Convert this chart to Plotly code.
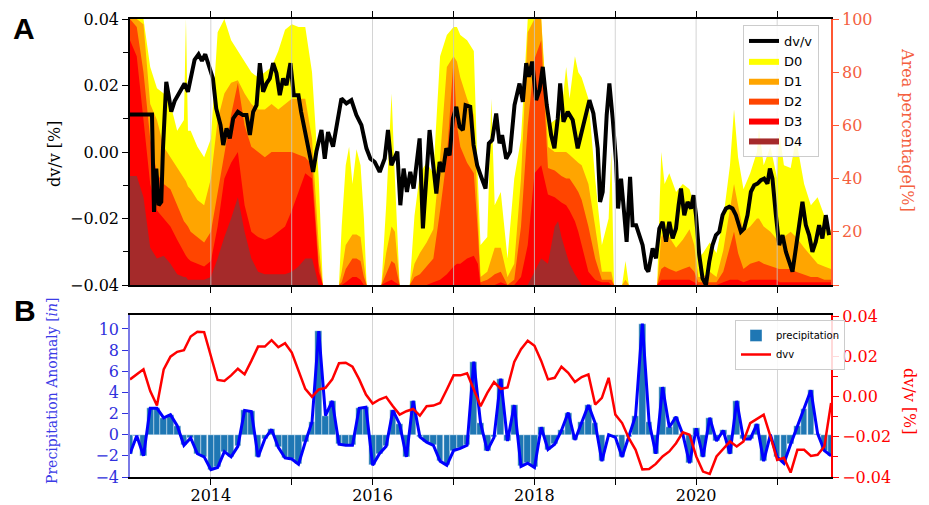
import numpy as np
import pandas as pd
import plotly.graph_objects as go

START = pd.Timestamp("2013-01-01")


def to_dates(months):
    return START + pd.to_timedelta(np.asarray(months, dtype=float) * 30.436875, unit="D")


# ---------------- Panel A : drought area percentages (cumulative) ----------------
drought_month = [0, 1, 2, 3, 4, 5, 6, 7, 8, 8.3, 8.6, 9, 10, 11, 12, 13, 14, 15, 16, 17,
                 18, 19, 20, 21, 22, 23, 24, 25, 26, 27, 28, 28.6, 31, 31.4, 32, 32.5, 33,
                 33.6, 34.2, 34.7, 35.1, 37.3, 38, 38.8, 39.3, 40, 41.5, 42.2, 43, 44, 45,
                 46, 47, 48, 48.5, 49, 50, 51, 51.6, 52, 53, 53.6, 54.1, 55, 56, 57, 58, 59,
                 60, 61, 62, 63, 63.5, 64, 64.7, 65.2, 66, 66.5, 67, 68, 69, 70, 71, 71.4,
                 71.8, 73, 73.5, 74, 78.2, 78.8, 79.3, 80, 81, 82, 83, 83.7, 84.3, 85, 86,
                 87, 88, 89, 89.6, 90.2, 91, 92, 93, 93.3, 94, 95, 96, 96.3, 97, 98, 98.8,
                 100, 101, 102, 103, 104]
d0 = [100, 100, 100, 82, 74, 72, 68, 58, 62, 100, 58, 58, 52, 48, 55, 95, 100, 92, 88, 84,
      80, 78, 80, 82, 88, 96, 98, 97, 97, 80, 40, 0, 0, 22, 45, 52, 38,
      51, 45, 25, 0, 0, 30, 72, 40, 0, 0, 26, 42, 46, 42,
      86, 94, 97, 97, 94, 92, 88, 40, 15, 18, 70, 30, 35, 10, 40, 55, 100,
      100, 100, 60, 62, 62, 65, 82, 70, 86, 80, 78, 70, 40, 15, 25, 50,
      0, 0, 9, 0, 0, 50, 38, 42, 35, 38, 36, 30, 10, 12, 16,
      12, 25, 45, 66, 48, 36, 42, 50, 59, 45, 52, 40, 58, 45, 44, 55,
      38, 30, 33, 26, 20]
d1 = [100, 100, 98, 68, 62, 52, 48, 44, 40, 39, 37, 36, 32, 30, 40, 62, 72, 76, 77, 72,
      68, 66, 66, 68, 66, 68, 70, 70, 70, 55, 15, 0, 0, 5, 15, 17, 19,
      19, 18, 8, 0, 0, 12, 22, 20, 0, 0, 8, 12, 16, 21,
      48, 82, 86, 84, 78, 70, 64, 25, 3, 5, 10, 14, 14, 3, 8, 40, 95,
      100, 100, 52, 50, 50, 50, 50, 49, 47, 46, 45, 38, 22, 5, 5, 5,
      0, 0, 2, 0, 0, 18, 20, 18, 14, 17, 21, 15, 3, 3, 5,
      3, 13, 28, 38, 30, 20, 22, 25, 25, 22, 20, 17, 18, 18, 20, 18,
      14, 11, 8, 7, 6]
d2 = [100, 97, 80, 55, 42, 38, 36, 30, 24, 23, 22, 20, 18, 16, 20, 35, 50, 64, 76, 60,
      52, 50, 48, 50, 50, 50, 50, 49, 48, 45, 8, 0, 0, 1, 6, 8, 10,
      10, 9, 3, 0, 0, 4, 9, 8, 0, 0, 3, 4, 7, 10,
      28, 48, 85, 60, 52, 46, 42, 20, 1, 2, 3, 4, 5, 0, 2, 22, 60,
      85, 92, 44, 43, 42, 41, 40, 40, 37, 35, 32, 22, 10, 2, 2, 2,
      0, 0, 0, 0, 0, 6, 7, 6, 5, 6, 7, 5, 1, 1, 1,
      1, 5, 15, 20, 12, 6, 8, 9, 9, 8, 7, 6, 6, 6, 6, 5,
      4, 3, 3, 2, 2]
d3 = [92, 86, 62, 38, 28, 25, 22, 17, 12, 11, 10, 9, 8, 7, 9, 22, 40, 46, 50, 30,
      20, 18, 17, 18, 20, 22, 28, 35, 42, 40, 5, 0, 0, 0, 1, 2, 3,
      3, 2, 0, 0, 0, 1, 2, 1, 0, 0, 0, 0, 0, 1,
      2, 4, 7, 8, 8, 10, 11, 8, 0, 0, 0, 0, 1, 0, 0, 3, 15,
      42, 45, 34, 33, 32, 31, 30, 28, 24, 20, 15, 5, 2, 1, 1, 0,
      0, 0, 0, 0, 0, 2, 2, 2, 2, 2, 2, 1, 0, 0, 0,
      0, 1, 2, 2, 2, 1, 2, 2, 2, 2, 2, 2, 1, 1, 1, 1,
      1, 1, 1, 1, 1]
d4 = [41, 41, 33, 14, 10, 11, 8, 4, 3, 3, 2, 2, 2, 2, 3, 10, 18, 25, 33, 20,
      10, 5, 4, 4, 4, 4, 5, 7, 10, 10, 0, 0, 0, 0, 0, 0, 0,
      0, 0, 0, 0, 0, 0, 0, 0, 0, 0, 0, 0, 0, 0,
      0, 0, 0, 0, 0, 0, 0, 0, 0, 0, 0, 0, 0, 0, 0, 0, 0,
      5, 10, 8, 22, 24, 18, 12, 8, 4, 2, 0, 0, 0, 0, 0, 0,
      0, 0, 0, 0, 0, 0, 0, 0, 0, 0, 0, 0, 0, 0, 0,
      0, 0, 0, 0, 0, 0, 0, 0, 0, 0, 0, 0, 0, 0, 0, 0,
      0, 0, 0, 0, 0]
drought_names = ["D0", "D1", "D2", "D3", "D4"]
drought_colors = ["#ffff00", "#ffa500", "#ff4500", "#ff0000", "#a52a2a"]

# ---------------- Panel A : dv/v (continuous) ----------------
dvv_month = [0, 3.26, 3.56, 3.9, 4.25, 4.64, 4.89, 5.38, 5.73, 6.12, 6.62, 7.11, 7.6, 8.1,
             8.59, 9.08, 9.58, 10.17, 10.67, 11.16, 11.65, 12.3, 12.79, 13.43, 13.83, 14.32,
             14.81, 15.31, 16.0, 16.74, 17.28, 17.78, 18.27, 18.77, 19.26, 19.75, 20.25,
             20.74, 21.23, 21.73, 22.22, 22.72, 23.21, 23.8, 24.3, 24.99, 25.38, 25.93,
             27.16, 27.65, 28.4, 28.89, 29.38, 30.12, 30.62, 31.36, 32.1, 32.84, 33.58,
             34.33, 35.07, 35.66, 36.3, 37.04, 37.78, 38.27, 38.77, 39.66, 40.1, 40.59,
             41.08, 41.58, 42.07, 42.56, 42.96, 43.45, 43.95, 44.44, 44.93, 45.44, 45.93,
             46.41, 46.92, 47.41, 47.9, 48.4, 48.89, 49.38, 49.78, 50.47, 50.96, 51.5,
             52.1, 52.74, 53.23, 53.73, 54.32, 54.81, 55.2, 55.8, 56.39, 57.04, 57.78,
             58.27, 58.77, 59.16, 59.66, 60.25, 60.74, 61.23, 61.82, 62.47, 62.96, 63.45,
             63.81, 64.3, 64.93, 65.67, 66.41, 67.16, 67.73, 68.15, 68.74, 69.38, 69.73,
             70.12, 70.71, 71.11, 71.6, 72.1, 72.4, 72.84, 73.33, 73.67, 74.18, 74.56,
             75.07, 75.56, 76.04, 76.55, 76.89, 77.53, 78.03, 78.52, 79.01, 79.51, 80.0,
             80.49, 80.99, 81.38, 81.73, 82.22, 82.71, 83.21, 83.6, 83.96, 84.44, 84.93,
             85.44, 85.93, 86.41, 86.92, 87.41, 87.9, 88.4, 88.89, 89.38, 89.88, 90.62,
             91.11, 91.6, 92.1, 92.59, 93.08, 93.58, 94.07, 94.56, 94.92, 95.3, 95.81,
             96.3, 96.79, 97.29, 97.78, 98.27, 98.77, 99.26, 99.75, 100.25, 100.74,
             101.23, 101.73, 102.22, 102.71, 103.21, 103.7]
dvv_a = [0.0113, 0.0113, -0.018, -0.005, -0.016, -0.015, 0.001, 0.0211, 0.0171, 0.0121,
         0.0153, 0.0171, 0.0186, 0.0206, 0.0181, 0.0231, 0.0277, 0.0294, 0.0274, 0.0294,
         0.0262, 0.0221, 0.0131, 0.0081, 0.0021, 0.0071, 0.0041, 0.0101, 0.0121, 0.0111,
         0.0111, 0.0051, 0.0121, 0.0141, 0.0267, 0.0181, 0.0206, 0.0221, 0.0267, 0.0237,
         0.0171, 0.0221, 0.0201, 0.0267, 0.0171, 0.0171, 0.0121, 0.006, -0.006, 0.0001,
         0.0066, -0.002, 0.006, 0.0016, 0.0081, 0.0161, 0.0146, 0.0156, 0.0111, 0.0081,
         0.0011, -0.002, -0.003, -0.006, -0.002, 0.0066, -0.004, 0.0001, -0.016, -0.005,
         -0.012, -0.006, -0.011, -0.0034, 0.0041, -0.023, -0.007, 0.0066, -0.003, -0.0125,
         -0.003, -0.006, 0.0011, -0.001, 0.0101, 0.0136, 0.0076, 0.0066, 0.0141, 0.0136,
         0.0021, -0.004, -0.0075, -0.011, 0.0026, 0.0036, 0.0116, 0.0026, 0.0051, -0.002,
         0.0001, 0.0141, 0.0206, 0.0151, 0.0267, 0.0226, 0.0272, 0.0156, 0.0186, 0.0256,
         0.0141, 0.0051, 0.0011, 0.0101, 0.0206, 0.0091, 0.0121, 0.0096, 0.0011, 0.0071,
         0.0111, 0.0156, 0.0116, 0.0011, -0.015, -0.012, 0.0111, 0.0206, 0.0101, -0.003,
         -0.017, -0.008, -0.019, -0.027, -0.0075, -0.022, -0.022, -0.0255, -0.028, -0.035,
         -0.036, -0.029, -0.032, -0.023, -0.021, -0.027, -0.021, -0.026, -0.023, -0.016,
         -0.011, -0.019, -0.015, -0.017, -0.013, -0.019, -0.031, -0.038, -0.040, -0.033,
         -0.028, -0.025, -0.024, -0.019, -0.017, -0.0165, -0.017, -0.019, -0.024, -0.023,
         -0.019, -0.012, -0.010, -0.0095, -0.0085, -0.008, -0.0095, -0.005, -0.008,
         -0.019, -0.028, -0.025, -0.030, -0.033, -0.036, -0.029, -0.021, -0.015, -0.022,
         -0.025, -0.030, -0.027, -0.022, -0.026, -0.019, -0.025]

# ---------------- Panel B : monthly precipitation anomaly & dvv ----------------
month_b = list(range(105))
precip = [-1.8, -0.1, -2.0, 2.5, 2.5, 1.6, 1.9, 0.85, -1.0, -0.3, -1.8, -2.1, -3.3, -3.1,
          -1.6, -2.1, -1.1, 2.3, 2.2, -2.1, -0.4, 0.5, -1.2, -2.2, -2.3, -2.8, -0.7, 1.2,
          9.8, 1.8, 3.2, -0.9, -1.0, -1.0, 2.5, 2.6, -2.9, -1.8, -1.1, 2.3, 1.0, -2.1,
          3.2, -0.2, -0.7, -1.0, -2.5, -2.9, -1.5, -1.3, -1.0, 6.9, 1.1, -1.5, -0.25, 5.3,
          -0.6, 2.8, -3.0, -2.7, -3.1, 0.7, -1.4, -0.9, 0.4, 2.1, -0.5, 1.2, 2.8, 1.1,
          -2.5, 0.0, -0.25, -2.1, -0.25, 1.8, 10.5, 1.2, -1.8, 4.5, 0.7, 1.7, 0.05, -2.7,
          0.6, -2.1, 1.6, -0.6, 0.4, -1.8, 3.2, -0.4, -0.4, 1.0, -2.5, 0.0, -2.1, -2.7,
          -0.9, 0.85, 2.4, 4.2, 0.1, -1.5, -2.0]
dvv_b = [0.0085, 0.011, 0.0135, 0.0027, -0.0045, 0.0135, 0.0198, 0.0222, 0.023, 0.0298,
         0.0322, 0.032, 0.0202, 0.0082, 0.0077, 0.0105, 0.0138, 0.011, 0.0177, 0.0248,
         0.0248, 0.028, 0.0245, 0.0265, 0.0218, 0.0127, 0.0038, -0.0002, 0.0035, 0.0043,
         0.0085, 0.0165, 0.0168, 0.0148, 0.0085, 0.001, -0.0035, -0.0015, -0.0002,
         -0.0048, -0.009, -0.0073, -0.0062, -0.0095, -0.0048, -0.0045, -0.0032, 0.0035,
         0.0105, 0.0105, 0.0115, 0.0035, -0.0048, 0.0018, 0.0072, 0.0038, 0.0045, 0.0172,
         0.0235, 0.0277, 0.0252, 0.0177, 0.0085, 0.0093, 0.0148, 0.0118, 0.0072, 0.0097,
         0.011, -0.004, -0.0007, 0.0093, -0.009, -0.0132, -0.0207, -0.0265, -0.0362,
         -0.036, -0.0335, -0.0298, -0.0273, -0.0232, -0.0178, -0.019, -0.0298, -0.0373,
         -0.0385, -0.0298, -0.0262, -0.0223, -0.0248, -0.0223, -0.0132, -0.0112, -0.009,
         -0.0198, -0.0315, -0.0305, -0.0378, -0.0265, -0.0265, -0.0295, -0.029, -0.0248,
         -0.0032]

years = list(range(2014, 2022))
year_labels = ["2014", "", "2016", "", "2018", "", "2020", ""]

# ---------------- figure ----------------
SERIF = "DejaVu Serif"
SANS = "DejaVu Sans"
AREA_COL = "#ff5733"
AREA_TXT = "#f4603f"
BLUE_TXT = "#3030dd"
RED = "#ff0000"

x_range = [pd.Timestamp("2013-01-01"), pd.Timestamp("2021-09-01")]
year_dates = [pd.Timestamp(f"{y}-01-01") for y in years]

fig = go.Figure()

dd = to_dates(drought_month)
for i, (name, vals, col) in enumerate(zip(drought_names, [d0, d1, d2, d3, d4], drought_colors)):
    fig.add_trace(go.Scatter(x=dd, y=vals, mode="lines", fill="tozeroy", fillcolor=col,
                             line=dict(width=0, color=col), name=name,
                             xaxis="x", yaxis="y", legend="legend", legendrank=i + 2))

fig.add_trace(go.Scatter(x=to_dates(dvv_month), y=dvv_a, mode="lines",
                         line=dict(color="black", width=4), name="dv/v",
                         xaxis="x", yaxis="y2", legend="legend", legendrank=1))

db = to_dates(month_b)
fig.add_trace(go.Bar(x=db, y=precip, width=30 * 86400000,
                     marker=dict(color="#1f77b4", line=dict(color="white", width=0.4)),
                     name="precipitation", xaxis="x2", yaxis="y3", legend="legend2"))
fig.add_trace(go.Scatter(x=db, y=precip, mode="lines", line=dict(color="#0000ff", width=3),
                         showlegend=False, xaxis="x2", yaxis="y3"))
fig.add_trace(go.Scatter(x=db, y=dvv_b, mode="lines", line=dict(color=RED, width=2.5),
                         name="dvv", xaxis="x2", yaxis="y4", legend="legend2"))

W, H = 929, 505
xdom = [130 / W, 831 / W]
ydomA = [1 - 285 / H, 1 - 19 / H]
ydomB = [1 - 477 / H, 1 - 315 / H]

tickfont = dict(family=SERIF, size=16, color="black")

fig.update_layout(
    width=W, height=H, margin=dict(l=0, r=0, t=0, b=0, pad=0), autosize=False,
    paper_bgcolor="white", plot_bgcolor="white", bargap=0,
    xaxis=dict(domain=xdom, anchor="y", type="date", range=x_range, tickvals=year_dates,
               showticklabels=False, ticks="outside", ticklen=6, tickwidth=1.3, tickcolor="black",
               showline=True, linecolor="black", linewidth=1.6, mirror="ticks", showgrid=False,
               zeroline=False, automargin=False),
    yaxis=dict(domain=ydomA, anchor="x", side="right", range=[0, 100],
               tickvals=[0, 20, 40, 60, 80, 100], ticktext=["", "20", "40", "60", "80", "100"],
               ticks="outside", ticklen=6, tickwidth=1.3, tickcolor=AREA_COL,
               tickfont=dict(family=SERIF, size=16, color=AREA_TXT),
               showline=True, linecolor=AREA_COL, linewidth=1.6, showgrid=False, zeroline=False,
               automargin=False),
    yaxis2=dict(anchor="x", overlaying="y", side="left", range=[-0.04, 0.04],
                tickvals=[-0.04, -0.02, 0, 0.02, 0.04], tickformat=".2f",
                ticks="outside", ticklen=6, tickwidth=1.3, tickcolor="black", tickfont=tickfont,
                minor=dict(tickvals=[-0.03, -0.01, 0.01, 0.03], ticks="outside", ticklen=5,
                           tickwidth=1.2, tickcolor="black", showgrid=False),
                showline=True, linecolor="black", linewidth=1.6, showgrid=False, zeroline=False,
                automargin=False),
    xaxis2=dict(domain=xdom, anchor="y3", type="date", range=x_range, tickvals=year_dates,
                ticktext=year_labels, tickfont=tickfont, ticks="outside", ticklen=6, tickwidth=1.3,
                ticklabelstandoff=-3,
                tickcolor="black", showline=True, linecolor="black", linewidth=1.6, mirror="ticks",
                showgrid=True, gridcolor="#d4d4d4", gridwidth=1, zeroline=False, automargin=False),
    yaxis3=dict(domain=ydomB, anchor="x2", side="left", range=[-4, 11.32],
                tickvals=[-4, -2, 0, 2, 4, 6, 8, 10], ticks="outside", ticklen=6, tickwidth=1.3,
                tickcolor=BLUE_TXT, tickfont=dict(family=SERIF, size=16, color=BLUE_TXT),
                showline=True, linecolor="#7a7ae6", linewidth=1.6, showgrid=False, zeroline=False,
                automargin=False),
    yaxis4=dict(anchor="x2", overlaying="y3", side="right", range=[-0.04, 0.0405],
                tickvals=[-0.04, -0.02, 0, 0.02, 0.04], tickformat=".2f",
                ticks="outside", ticklen=6, tickwidth=1.3, tickcolor=RED,
                tickfont=dict(family=SERIF, size=16, color=RED),
                minor=dict(tickvals=[-0.03, -0.01, 0.01, 0.03], ticks="outside", ticklen=5,
                           tickwidth=1.2, tickcolor=RED, showgrid=False),
                showline=True, linecolor=RED, linewidth=2, showgrid=False, zeroline=False,
                automargin=False),
    legend=dict(x=743 / W, y=1 - 25 / H, xanchor="left", yanchor="top",
                bgcolor="rgba(255,255,255,0.85)", bordercolor="#cccccc", borderwidth=1,
                font=dict(family=SANS, size=13, color="black"), tracegroupgap=0, itemwidth=30),
    legend2=dict(x=735 / W, y=1 - 320 / H, xanchor="left", yanchor="top",
                 bgcolor="rgba(255,255,255,0.85)", bordercolor="#cccccc", borderwidth=1,
                 font=dict(family=SANS, size=10, color="black"), tracegroupgap=0, itemwidth=30),
)

# year gridlines drawn above the drought fills in panel A
for d in year_dates:
    fig.add_shape(type="line", xref="x", yref="y domain", x0=d, x1=d, y0=0, y1=1,
                  line=dict(color="rgba(200,200,200,0.8)", width=1), layer="above")

annos = [
    dict(text="<b>A</b>", x=11 / W, y=1 - 28 / H, xanchor="left", yanchor="middle",
         font=dict(family="Liberation Sans", size=30, color="black")),
    dict(text="<b>B</b>", x=12 / W, y=1 - 310 / H, xanchor="left", yanchor="middle",
         font=dict(family="Liberation Sans", size=30, color="black")),
    dict(text="dv/v [%]", x=54 / W, y=1 - 154 / H, textangle=-90, xanchor="center", yanchor="middle",
         font=dict(family=SERIF, size=16, color="black")),
    dict(text="Area percentage[%]", x=908 / W, y=1 - 130 / H, textangle=90, xanchor="center",
         yanchor="middle", font=dict(family=SERIF, size=16, color=AREA_TXT)),
    dict(text="Precipitation Anomaly [<i>in</i>]", x=52 / W, y=1 - 391 / H, textangle=-90,
         xanchor="center", yanchor="middle", font=dict(family=SERIF, size=14, color="#3b3be6")),
    dict(text="dv/v [%]", x=910 / W, y=1 - 401 / H, textangle=90, xanchor="center", yanchor="middle",
         font=dict(family=SERIF, size=16, color=RED)),
]
for a in annos:
    fig.add_annotation(xref="paper", yref="paper", showarrow=False, **a)

fig.write_html("out.html")
